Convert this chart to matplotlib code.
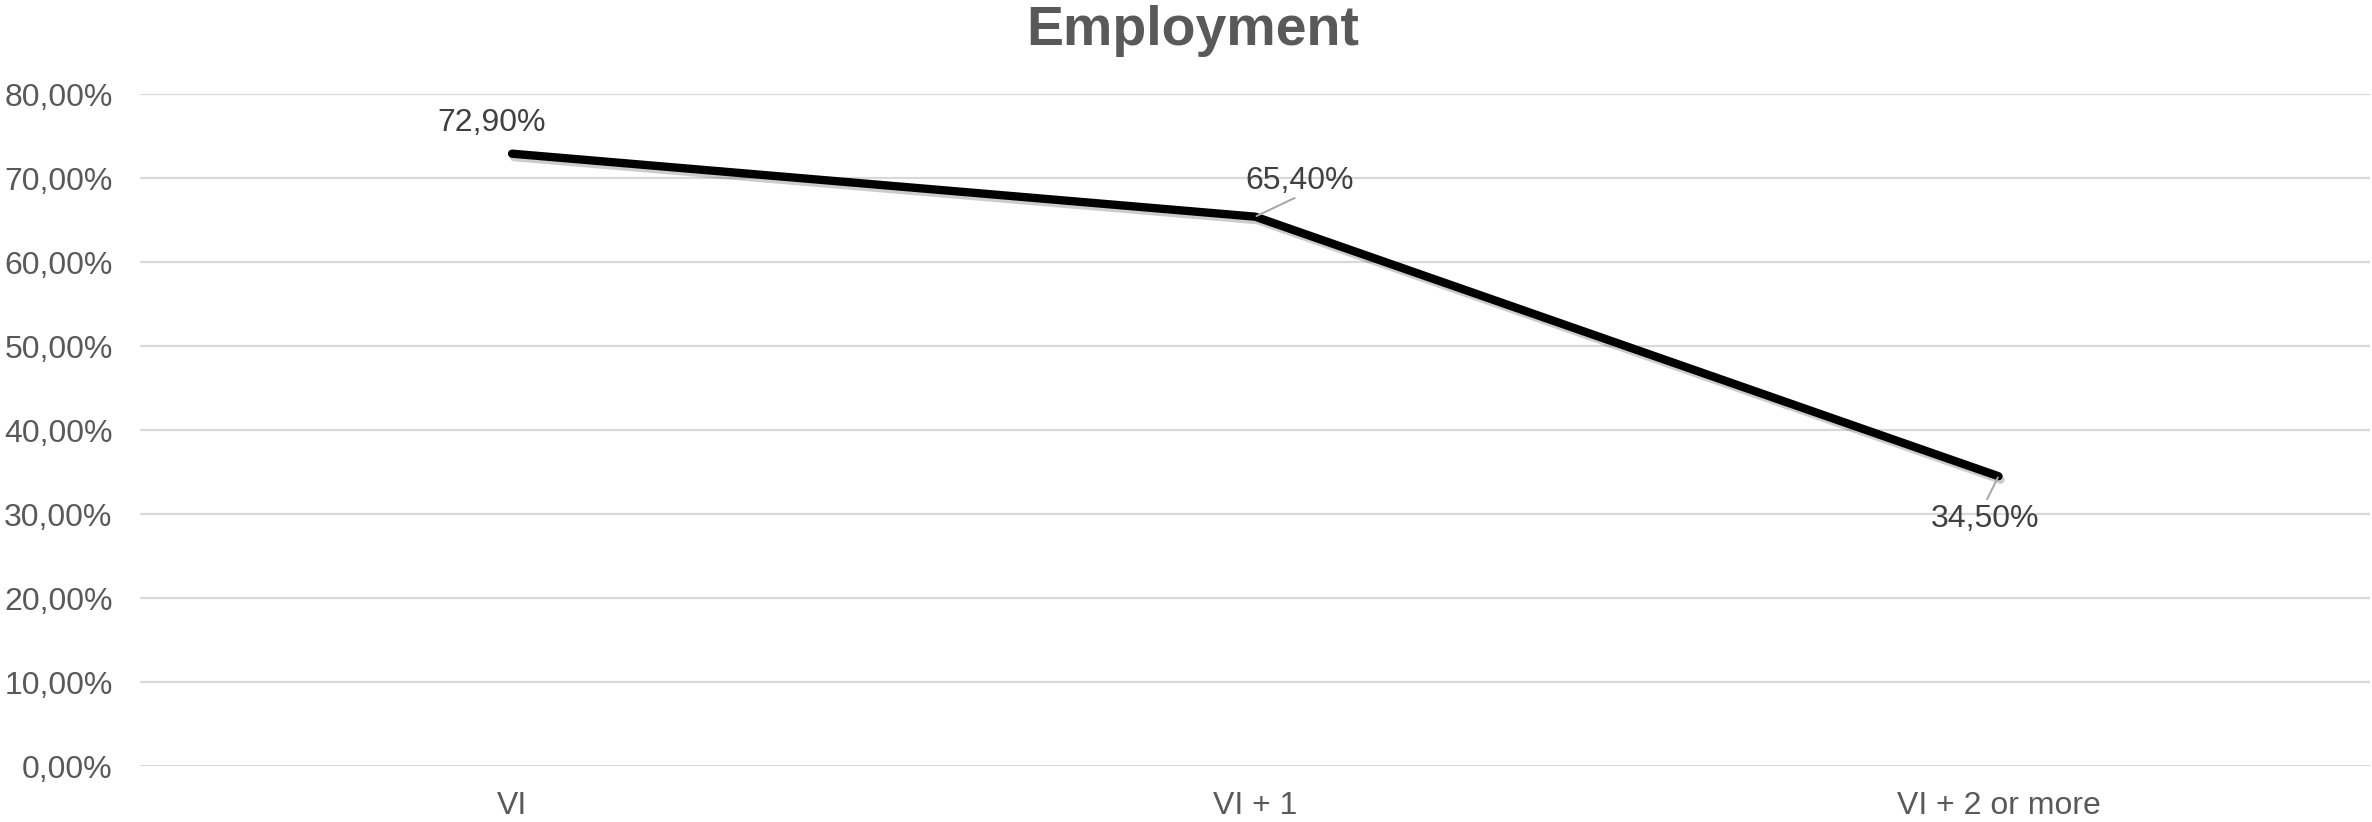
import matplotlib.pyplot as plt
import matplotlib.patheffects as pe
from matplotlib.ticker import FuncFormatter

categories = ["VI", "VI + 1", "VI + 2 or more"]
employment = [0.729, 0.654, 0.345]
label_text = ["72,90%", "65,40%", "34,50%"]
# label offsets in points (dx, dy) relative to each point
label_offsets = [(-15, 22), (32, 26), (-10, -31)]
leader = [None, (0.5, 0.0), (0.5, 1.0)]

plt.rcParams["font.family"] = ["Liberation Sans", "DejaVu Sans"]

fig = plt.figure(figsize=(23.72, 8.22), dpi=100)
ax = fig.add_axes([0.0592, 0.0681, 0.9400, 0.8175])

x = list(range(len(categories)))
ax.plot(x, employment, color="black", lw=6, solid_capstyle="round",
        solid_joinstyle="round", zorder=3,
        path_effects=[pe.SimpleLineShadow(offset=(1.5, -2.5), shadow_color="black", alpha=0.2),
                      pe.Normal()])

for xi, yi, txt, off, rel in zip(x, employment, label_text, label_offsets, leader):
    arrow = None
    if rel is not None:
        arrow = dict(arrowstyle="-", color="#a6a6a6", lw=1.4, relpos=rel,
                     patchA=None, shrinkA=4, shrinkB=1)
    ax.annotate(txt, (xi, yi), xytext=off, textcoords="offset points",
                ha="center", va="center", fontsize=23, color="#404040", zorder=4,
                arrowprops=arrow)

ax.set_xlim(-0.5, len(categories) - 0.5)
ax.set_ylim(0, 0.8)
ax.set_yticks([i / 10 for i in range(9)])
ax.yaxis.set_major_formatter(FuncFormatter(lambda v, p: f"{v * 100:.2f}%".replace(".", ",")))
ax.set_xticks(x)
ax.set_xticklabels(categories)

ax.grid(axis="y", color="#d9d9d9", lw=1.6)
ax.set_axisbelow(True)
for s in ax.spines.values():
    s.set_visible(False)
ax.tick_params(axis="both", length=0, labelsize=23, labelcolor="#595959")
ax.tick_params(axis="x", pad=18)
ax.tick_params(axis="y", pad=20)

fig.text(0.503, 0.962, "Employment", ha="center", va="center",
         fontsize=40, fontweight="bold", color="#595959")

fig.savefig("out.png", dpi=100)
